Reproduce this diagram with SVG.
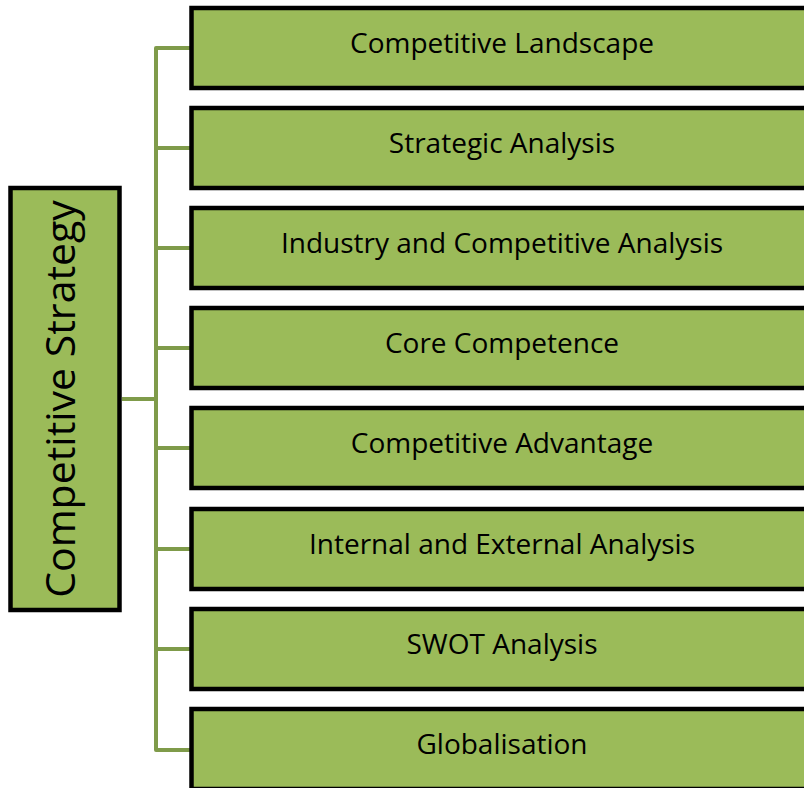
<svg xmlns="http://www.w3.org/2000/svg" width="804" height="788" viewBox="0 0 804 788">
<style>
.box{fill:#9bbb59;stroke:#000;stroke-width:4.5}
.lbl{font-family:"Open Sans","Noto Sans",sans-serif;font-size:28px;fill:#000;text-anchor:middle}
.root{font-family:"Open Sans","Noto Sans",sans-serif;font-size:41px;fill:#000;text-anchor:middle}
.con{fill:none;stroke:#7f9b4a;stroke-width:4;stroke-linejoin:round}
</style>
<rect width="804" height="788" fill="#fff"/>
<g id="connectors">
<path class="con" d="M190 48 H156 V750 H190"/>
<path class="con" d="M156 148 H190 M156 248 H190 M156 348 H190 M156 448 H190 M156 549 H190 M156 649 H190"/>
<path class="con" d="M122 399 H156"/>
</g>
<g id="root">
<rect class="box" x="10.5" y="188" width="109" height="422"/>
<text class="root" transform="translate(75,399) rotate(-90)">Competitive Strategy</text>
</g>
<g id="n1"><rect class="box" x="191.5" y="8" width="630" height="80"/><text class="lbl" x="502" y="53">Competitive Landscape</text></g>
<g id="n2"><rect class="box" x="191.5" y="108" width="630" height="80"/><text class="lbl" x="502" y="153">Strategic Analysis</text></g>
<g id="n3"><rect class="box" x="191.5" y="208" width="630" height="80"/><text class="lbl" x="502" y="253">Industry and Competitive Analysis</text></g>
<g id="n4"><rect class="box" x="191.5" y="308" width="630" height="80"/><text class="lbl" x="502" y="353">Core Competence</text></g>
<g id="n5"><rect class="box" x="191.5" y="408" width="630" height="80"/><text class="lbl" x="502" y="453">Competitive Advantage</text></g>
<g id="n6"><rect class="box" x="191.5" y="509" width="630" height="80"/><text class="lbl" x="502" y="554">Internal and External Analysis</text></g>
<g id="n7"><rect class="box" x="191.5" y="609" width="630" height="80"/><text class="lbl" x="502" y="654">SWOT Analysis</text></g>
<g id="n8"><rect class="box" x="191.5" y="709" width="630" height="80"/><text class="lbl" x="502" y="754">Globalisation</text></g>
</svg>
